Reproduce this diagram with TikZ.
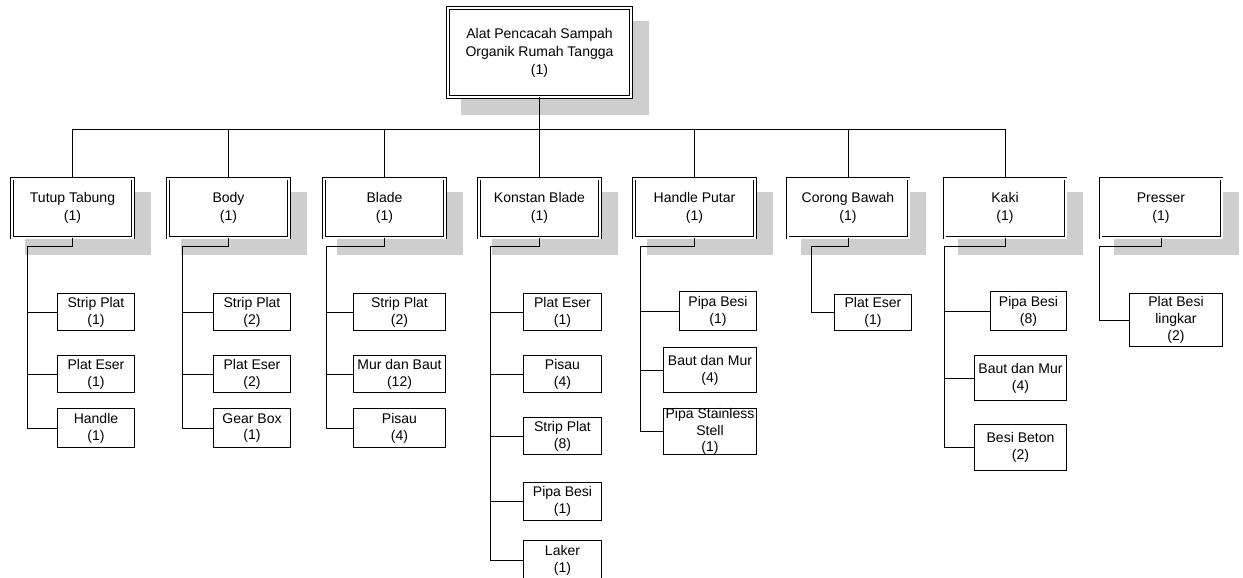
\documentclass[tikz,border=0pt]{standalone}
\usepackage{fontspec}
\setmainfont{Liberation Sans}
\usetikzlibrary{backgrounds}
\definecolor{shadowgray}{RGB}{206,206,206}
\begin{document}
\begin{tikzpicture}[x=1pt,y=-1pt,
  dbl/.style={draw, line width=0.9pt, double=white, double distance=2pt, fill=white, inner sep=0pt, align=center, font=\fontsize{14}{18}\selectfont},
  leaf/.style={draw, line width=0.9pt, fill=white, inner sep=0pt, align=center, font=\fontsize{14}{16.8}\selectfont},
  conn/.style={line width=1pt},
  shade/.style={fill=shadowgray}]
\clip (0,0) rectangle (1243,578);
% top
\node[dbl, minimum width=183pt, minimum height=89pt] (top) at (539.5,52.5) {Alat Pencacah Sampah\\Organik Rumah Tangga\\(1)};
% level 1
\tikzset{lvl/.style={dbl, minimum width=121pt, minimum height=59pt}}
\node[lvl] (tt)    at (72.5,208)  {Tutup Tabung\\(1)};
\node[lvl] (body)  at (228.5,208) {Body\\(1)};
\node[lvl] (blade) at (384.5,208) {Blade\\(1)};
\node[lvl] (kb)    at (539.5,208) {Konstan Blade\\(1)};
\node[lvl] (hp)    at (694.5,208) {Handle Putar\\(1)};
\node[lvl] (cb)    at (848,208)   {Corong Bawah\\(1)};
\node[lvl] (kaki)  at (1005,208)  {Kaki\\(1)};
\node[lvl] (pr)    at (1161,208)  {Presser\\(1)};
% leaves
\node[leaf, minimum width=77pt, minimum height=37pt] (tt1) at (96,312) {Strip Plat\\(1)};
\node[leaf, minimum width=77pt, minimum height=37pt] (tt2) at (96,374) {Plat Eser\\(1)};
\node[leaf, minimum width=77pt, minimum height=39pt] (tt3) at (96,428) {Handle\\(1)};
\node[leaf, minimum width=77pt, minimum height=37pt] (b1) at (252,312) {Strip Plat\\(2)};
\node[leaf, minimum width=77pt, minimum height=37pt] (b2) at (252,374) {Plat Eser\\(2)};
\node[leaf, minimum width=77pt, minimum height=39pt] (b3) at (252,428) {Gear Box\\(1)};
\node[leaf, minimum width=92pt, minimum height=37pt] (bl1) at (399.5,312) {Strip Plat\\(2)};
\node[leaf, minimum width=92pt, minimum height=37pt] (bl2) at (399.5,374) {Mur dan Baut\\(12)};
\node[leaf, minimum width=92pt, minimum height=39pt] (bl3) at (399.5,428) {Pisau\\(4)};
\node[leaf, minimum width=78pt, minimum height=37pt] (kb1) at (562.5,312) {Plat Eser\\(1)};
\node[leaf, minimum width=78pt, minimum height=37pt] (kb2) at (562.5,374) {Pisau\\(4)};
\node[leaf, minimum width=78pt, minimum height=37pt] (kb3) at (562.5,436) {Strip Plat\\(8)};
\node[leaf, minimum width=78pt, minimum height=38pt] (kb4) at (562.5,501.5) {Pipa Besi\\(1)};
\node[leaf, minimum width=78pt, minimum height=39pt] (kb5) at (562.5,560) {Laker\\(1)};
\node[leaf, minimum width=77pt, minimum height=39pt] (hp1) at (718,311) {Pipa Besi\\(1)};
\node[leaf, minimum width=93pt, minimum height=45pt] (hp2) at (710,370) {Baut dan Mur\\(4)};
\node[leaf, minimum width=93pt, minimum height=46pt] (hp3) at (710,431.5) {Pipa Stainless\\Stell\\(1)};
\node[leaf, minimum width=77pt, minimum height=36pt] (cb1) at (873,312.5) {Plat Eser\\(1)};
\node[leaf, minimum width=76pt, minimum height=39pt] (k1) at (1028.5,311) {Pipa Besi\\(8)};
\node[leaf, minimum width=92pt, minimum height=45pt] (k2) at (1020.5,378) {Baut dan Mur\\(4)};
\node[leaf, minimum width=92pt, minimum height=46pt] (k3) at (1020.5,447.5) {Besi Beton\\(2)};
\node[leaf, minimum width=93pt, minimum height=53pt] (p1) at (1176,320) {Plat Besi\\lingkar\\(2)};
% shadows
\begin{scope}[on background layer]
\foreach \n in {top,tt,body,blade,kb,hp,cb,kaki,pr}
  \fill[shade] ([shift={(13.6,13.6)}]\n.north west) rectangle ([shift={(17.4,17.4)}]\n.south east);
\end{scope}
% top connectors
\coordinate (bus) at (539.5,129);
\draw[conn] (top.south) -- (kb.north);
\draw[conn] (tt.north |- bus) -- (kaki.north |- bus);
\foreach \n in {tt,body,blade,hp,cb,kaki}
  \draw[conn] (\n.north |- bus) -- (\n.north);
% spines
\coordinate (sTT) at (27,246);
\coordinate (sB) at (182,246);
\coordinate (sBL) at (326,246);
\coordinate (sKB) at (490,246);
\coordinate (sHP) at (640,246);
\coordinate (sCB) at (811,246);
\coordinate (sK) at (944,246);
\coordinate (sP) at (1099,246);
\draw[conn] (tt.south) |- (sTT) |- (tt3.west);
\foreach \c in {tt1,tt2} \draw[conn] (sTT |- \c.west) -- (\c.west);
\draw[conn] (body.south) |- (sB) |- (b3.west);
\foreach \c in {b1,b2} \draw[conn] (sB |- \c.west) -- (\c.west);
\draw[conn] (blade.south) |- (sBL) |- (bl3.west);
\foreach \c in {bl1,bl2} \draw[conn] (sBL |- \c.west) -- (\c.west);
\draw[conn] (kb.south) |- (sKB) |- (kb5.west);
\foreach \c in {kb1,kb2,kb3,kb4} \draw[conn] (sKB |- \c.west) -- (\c.west);
\draw[conn] (hp.south) |- (sHP) |- (hp3.west);
\foreach \c in {hp1,hp2} \draw[conn] (sHP |- \c.west) -- (\c.west);
\draw[conn] (cb.south) |- (sCB) |- (cb1.west);
\draw[conn] (kaki.south) |- (sK) |- (k3.west);
\foreach \c in {k1,k2} \draw[conn] (sK |- \c.west) -- (\c.west);
\draw[conn] (pr.south) |- (sP) |- (p1.west);
\end{tikzpicture}
\end{document}
